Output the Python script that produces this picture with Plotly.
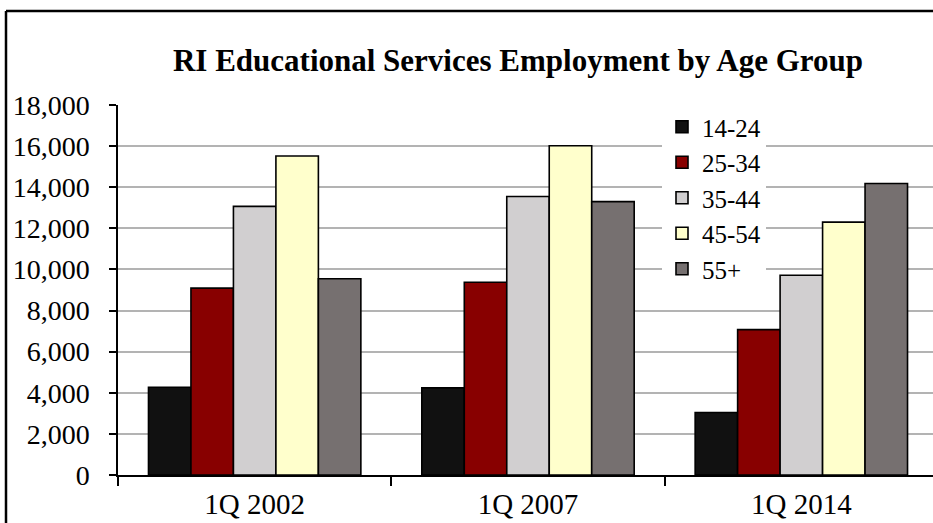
import plotly.graph_objects as go

# Employment counts by quarter and age group
quarters = ["1Q 2002", "1Q 2007", "1Q 2014"]
age_groups = ["14-24", "25-34", "35-44", "45-54", "55+"]
emp_14_24 = [4270, 4240, 3040]
emp_25_34 = [9090, 9380, 7070]
emp_35_44 = [13070, 13550, 9720]
emp_45_54 = [15520, 16020, 12300]
emp_55_plus = [9550, 13300, 14180]
series_values = [emp_14_24, emp_25_34, emp_35_44, emp_45_54, emp_55_plus]
bar_colors = ["#111111", "#880000", "#D1CFD0", "#FFFFCC", "#767070"]
y_ticks = [0, 2000, 4000, 6000, 8000, 10000, 12000, 14000, 16000, 18000]

serif = "Liberation Serif, serif"

fig = go.Figure()
for name, vals, col in zip(age_groups, series_values, bar_colors):
    fig.add_trace(go.Bar(
        x=quarters, y=vals, name=name,
        marker=dict(color=col, line=dict(color="#000000", width=1.6)),
    ))

W, H = 933, 523
L, R, T, B = 118, 0, 105, 48
plot_w = W - L - R
plot_h = H - T - B

fig.update_layout(
    width=W, height=H,
    margin=dict(l=L, r=R, t=T, b=B, pad=0),
    paper_bgcolor="white", plot_bgcolor="white",
    barmode="group", bargap=0.223, bargroupgap=0,
    font=dict(family=serif, color="#000000", size=27),
    title=dict(
        text="<b>RI Educational Services Employment by Age Group</b>",
        x=(518 - L) / plot_w, xref="paper", xanchor="center",
        y=1 - 60 / H, yref="container", yanchor="middle",
        font=dict(family=serif, size=31, color="#000000"),
    ),
    legend=dict(
        x=(662 - L) / plot_w, y=(H - B - 104) / plot_h,
        xanchor="left", yanchor="top",
        bgcolor="white", borderwidth=0,
        font=dict(family=serif, size=25, color="#000000"),
        tracegroupgap=0, itemwidth=30,
    ),
    showlegend=True,
)

fig.update_xaxes(
    type="category",
    range=[-0.5, 2.5 - 5 / 273],
    showgrid=False,
    showline=True, linecolor="#000000", linewidth=1.5,
    ticks="outside", tickson="boundaries", ticklen=9,
    tickcolor="#000000", tickwidth=1.5,
    tickfont=dict(family=serif, size=29),
    ticklabelstandoff=2,
    zeroline=False,
)
fig.update_yaxes(
    range=[0, 18000],
    tickvals=y_ticks,
    tickformat=",d",
    showgrid=True, gridcolor="#B3B3B3", gridwidth=1.5,
    showline=True, linecolor="#000000", linewidth=1.5,
    ticks="outside", ticklen=7, tickcolor="#000000", tickwidth=1.5,
    tickfont=dict(family=serif, size=28),
    ticklabelstandoff=14,
    zeroline=False,
)

# Chart-area frame along the left and top edges
fx = (6 - L) / plot_w
fy = (H - B - 11) / plot_h
fig.add_shape(type="line", xref="paper", yref="paper",
              x0=fx, x1=fx, y0=fy, y1=-0.3,
              line=dict(color="#000000", width=2.5))
fig.add_shape(type="line", xref="paper", yref="paper",
              x0=fx, x1=1.2, y0=fy, y1=fy,
              line=dict(color="#000000", width=2.5))

fig.write_html("out.html")
